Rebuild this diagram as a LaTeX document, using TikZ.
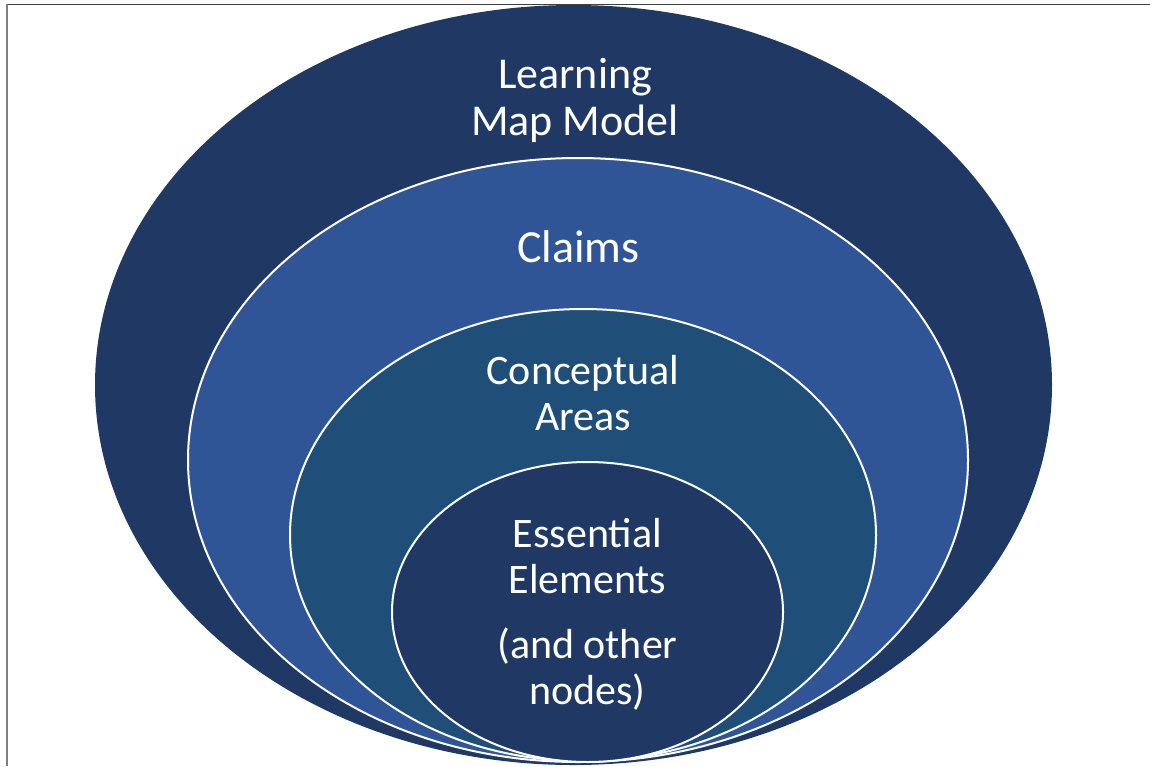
\documentclass[tikz,border=0pt]{standalone}
\usepackage{fontspec}
\setmainfont{Carlito}
\definecolor{navy}{HTML}{203864}
\definecolor{claimblue}{HTML}{2F5597}
\definecolor{areablue}{HTML}{1F4E79}
\tikzset{
  ring/.style={draw=white, line width=2pt},
  lbl/.style={text=white, align=center, inner sep=0pt, anchor=base},
}

\begin{document}
\begin{tikzpicture}[x=1pt, y=-1pt]
			%%%%% START %%%%%
			\useasboundingbox (0, 0) rectangle (1150, 766);
			\clip (0, 0) rectangle (1150, 766);
			
			\draw[line width=1pt, color=black!75] (6, 4.3) -- (1150, 4.3);
			\draw[line width=2pt, color=black!50] (6.7, 4) -- (6.7, 766);
			
			\fill[navy] (573.5, 385) ellipse (478.5 and 380);
			\draw[ring, fill=claimblue] (578, 460) ellipse (390 and 302);
			\draw[ring, fill=areablue] (583, 535) ellipse (293 and 226);
			\draw[ring, fill=navy] (587.5, 612) ellipse (195.5 and 150);
			
			% base anchor sits on the last line
			\node[lbl, font=\fontsize{44}{47}\selectfont] (model) at (575, 135) {Learning\\Map Model};
			\node[lbl, font=\fontsize{46}{47}\selectfont] (claims) at (578.5, 262) {Claims};
			\node[lbl, font=\fontsize{42}{46}\selectfont] (areas) at (583, 430) {Conceptual\\Areas};
			\node[lbl, font=\fontsize{42}{46}\selectfont] (elements) at (587.5, 704) {Essential\\Elements\\[19pt](and other\\nodes)};
			
			%%%%% END %%%%%
\end{tikzpicture}
\end{document}
